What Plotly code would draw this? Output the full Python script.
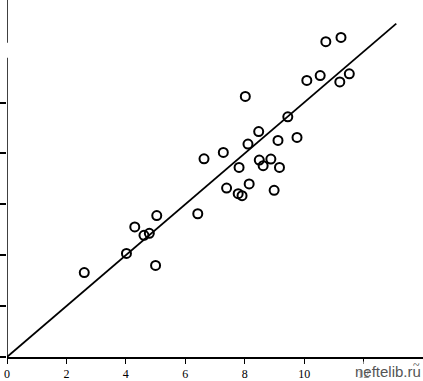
import plotly.graph_objects as go

obs_x = [2.60, 4.02, 4.30, 4.61, 4.79, 5.04, 5.00, 6.42, 6.63, 7.28, 7.39, 7.78,
         7.91, 7.81, 8.15, 8.11, 8.02, 8.47, 8.49, 8.62, 8.88, 9.17, 8.99, 9.12,
         9.76, 9.45, 10.09, 10.54, 10.73, 11.24, 11.20, 11.52]
obs_y = [3.32, 4.07, 5.11, 4.78, 4.86, 5.56, 3.60, 5.63, 7.79, 8.04, 6.64, 6.42,
         6.34, 7.45, 6.80, 8.37, 10.24, 8.86, 7.74, 7.52, 7.78, 7.45, 6.55, 8.51,
         8.63, 9.44, 10.87, 11.06, 12.39, 12.56, 10.81, 11.13]

# Fitted line y = x
fit_x = [0, 13.1]
fit_y = [0, 13.1]

x_ticks = [0, 2, 4, 6, 8, 10, 12]
x_tick_labels = ["0", "2", "4", "6", "8", "10", "12"]
y_ticks = [0, 2, 4, 6, 8, 10]

fig = go.Figure()
fig.add_trace(go.Scatter(x=fit_x, y=fit_y, mode="lines",
                         line=dict(color="black", width=1.8), hoverinfo="skip"))
fig.add_trace(go.Scatter(x=obs_x, y=obs_y, mode="markers",
                         marker=dict(symbol="circle-open", size=9,
                                     color="black", line=dict(width=2, color="black"))))

# y axis line drawn in two pieces (gap near the top as in the original)
fig.add_shape(type="line", xref="x", yref="y", x0=0, x1=0, y0=0, y1=11.76,
              line=dict(color="black", width=1.5))
fig.add_shape(type="line", xref="x", yref="y", x0=0, x1=0, y0=12.35, y1=14.03,
              line=dict(color="black", width=1.5))

fig.add_annotation(x=1, y=0, xref="paper", yref="paper", xanchor="right", yanchor="top",
                   yshift=-4, text="neftelib.ru", showarrow=False,
                   font=dict(family="Liberation Sans, Arial", size=15, color="#555555"),
                   bgcolor="rgba(255,255,255,0.55)")
fig.add_annotation(x=0.985, y=0, xref="paper", yref="paper", xanchor="center", yanchor="top",
                   yshift=1, text="~", showarrow=False,
                   font=dict(family="Liberation Serif", size=12, color="#333333"))

fig.update_layout(
    width=423, height=381,
    margin=dict(l=7, r=0, t=0, b=24),
    paper_bgcolor="white", plot_bgcolor="white",
    showlegend=False,
    xaxis=dict(range=[0, 14.0], tickvals=x_ticks, ticktext=x_tick_labels,
               showgrid=False, zeroline=False, showline=True, linecolor="black",
               linewidth=1.5, ticks="outside", ticklen=5, tickwidth=1.2, tickcolor="black",
               tickfont=dict(family="Liberation Serif, Times New Roman", size=12, color="black")),
    yaxis=dict(range=[0, 14.03], tickvals=y_ticks, showticklabels=False,
               showgrid=False, zeroline=False, showline=False,
               ticks="outside", ticklen=7, tickwidth=1.5, tickcolor="black"),
)

fig.write_html("out.html", config={"displayModeBar": False},
               post_script="document.body.style.margin='0';document.body.style.overflow='hidden';")
